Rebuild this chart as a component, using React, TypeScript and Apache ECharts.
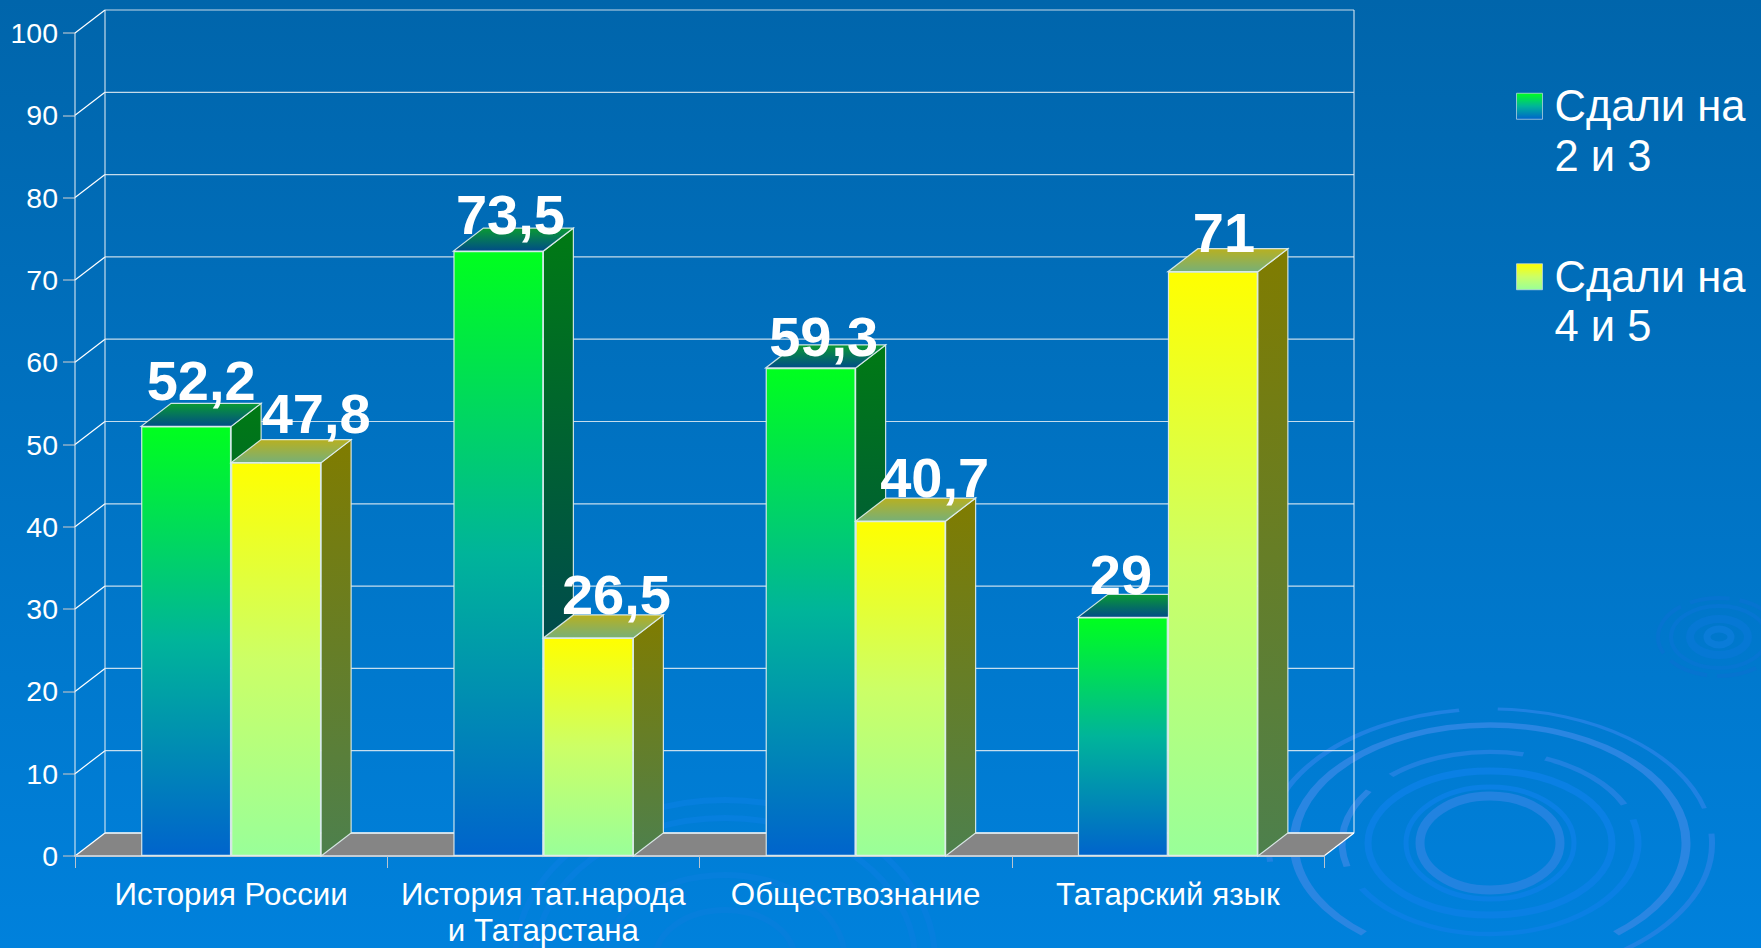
import React, { useEffect, useRef } from "react";
import * as echarts from "echarts";

const categories = ["История России", "История тат.народа\nи Татарстана", "Обществознание", "Татарский язык"];
const lowGrades = [52.2, 73.5, 59.3, 29];
const highGrades = [47.8, 26.5, 40.7, 71];
const lowName = "Сдали на 2 и 3";
const highName = "Сдали на 4 и 5";
const yTicks = [0, 10, 20, 30, 40, 50, 60, 70, 80, 90, 100];
const lowLabelNudge = [[15, -18], [12, -9], [13, -3], [-2, -15]];
const highLabelNudge = [[40, -21], [28, -15], [34, -16], [11, -11]];

const BAR_W = 90;
const DX = 30;
const DY = 23;
const FONT = '"Liberation Sans", Arial, sans-serif';
const EDGE = "rgba(225,240,240,0.9)";

const grad = (a: string, b: string, mid?: string) =>
  new echarts.graphic.LinearGradient(0, 0, 0, 1, mid
    ? [{ offset: 0, color: a }, { offset: 0.5, color: mid }, { offset: 1, color: b }]
    : [{ offset: 0, color: a }, { offset: 1, color: b }]);

function solid(api: any, side: number, sideFill: any, topFill: any) {
  const top = api.coord([api.value(0), api.value(1)]);
  const base = api.coord([api.value(0), 0]);
  const x = side < 0 ? top[0] - BAR_W : top[0];
  const xr = x + BAR_W;
  const style = (fill: any) => ({ fill, stroke: EDGE, lineWidth: 1.2 });
  return {
    type: "group",
    children: [
      {
        type: "polygon",
        shape: { points: [[xr, top[1]], [xr + DX, top[1] - DY], [xr + DX, base[1] - DY], [xr, base[1]]] },
        style: style(sideFill),
      },
      {
        type: "polygon",
        shape: { points: [[x, top[1]], [xr, top[1]], [xr + DX, top[1] - DY], [x + DX, top[1] - DY]] },
        style: style(topFill),
      },
    ],
  };
}

function frame(params: any, api: any) {
  const cs = params.coordSys;
  const x0 = cs.x;
  const x1 = cs.x + cs.width;
  const tick = api.value(0);
  const y = api.coord([0, tick])[1];
  const line = "rgba(232,240,244,0.85)";
  const children: any[] = [];
  if (tick === 0) {
    children.push({
      type: "polygon",
      shape: { points: [[x0, y], [x1, y], [x1 + DX, y - DY], [x0 + DX, y - DY]] },
      style: { fill: "#858585", stroke: "none" },
    });
  }
  if (tick === 100) {
    const yb = api.coord([0, 0])[1];
    [x0 + DX, x1 + DX].forEach((xx) =>
      children.push({
        type: "line",
        shape: { x1: xx, y1: y - DY, x2: xx, y2: yb - DY },
        style: { stroke: line, lineWidth: 1.2 },
      })
    );
    children.push({
      type: "line",
      shape: { x1: x0, y1: y, x2: x0, y2: yb },
      style: { stroke: line, lineWidth: 1.2 },
    });
  }
  children.push({
    type: "line",
    shape: { x1: x0, y1: y, x2: x0 + DX, y2: y - DY },
    style: { stroke: "#ffffff", lineWidth: 1.2 },
  });
  children.push({
    type: "line",
    shape: { x1: x0 + DX, y1: y - DY, x2: x1 + DX, y2: y - DY },
    style: { stroke: line, lineWidth: tick === 0 ? 2 : 1.2 },
  });
  if (tick === 0) {
    children.push({
      type: "line",
      shape: { x1: x1, y1: y, x2: x1 + DX, y2: y - DY },
      style: { stroke: "#ffffff", lineWidth: 1.2 },
    });
  }
  return { type: "group", children };
}

const ring = (cx: number, cy: number, rx: number, ry: number, stroke: string, lineWidth: number, lineDash?: number[], fill = "none") => ({
  type: "ellipse",
  z: -10,
  silent: true,
  shape: { cx, cy, rx, ry },
  style: { fill, stroke, lineWidth, lineDash },
});

const arcRing = (cx: number, cy: number, rx: number, ry: number, from: number, to: number, stroke: string, lineWidth: number) => ({
  type: "arc",
  z: -10,
  silent: true,
  x: cx,
  y: cy,
  scaleY: ry / rx,
  shape: { cx: 0, cy: 0, r: rx, startAngle: (from * Math.PI) / 180, endAngle: (to * Math.PI) / 180, clockwise: true },
  style: { fill: "none", stroke, lineWidth },
});

const BRIGHT = "#2a86e2";
const SOFT = "#0a80e4";
const ripples = [
  ring(1490, 843, 70, 47, "#2283e0", 9),
  ring(1490, 843, 84, 56, SOFT, 5),
  ring(1490, 843, 122, 72, SOFT, 7),
  arcRing(1490, 843, 148, 91, 165, 215, BRIGHT, 7),
  arcRing(1490, 843, 148, 91, 228, 283, "#1f82e0", 7),
  arcRing(1490, 843, 148, 91, 292, 335, "#1f82e0", 7),
  arcRing(1490, 843, 148, 91, 345, 510, SOFT, 7),
  arcRing(1490, 843, 196, 118, 130, 410, BRIGHT, 9),
  arcRing(1490, 843, 222, 134, 172, 262, "#1f82e2", 6),
  arcRing(1490, 843, 222, 134, 272, 345, "#1f82e2", 5),
  arcRing(1490, 843, 222, 134, 356, 420, "#1f82e2", 6),
  ring(1719, 637, 12, 8, "#0a7cd8", 7),
  ring(1719, 637, 29, 18, "#0678d4", 8),
  ring(1719, 637, 48, 31, "#0676d2", 4),
  ring(1719, 637, 61, 39, "#0674d0", 4, [40, 10]),
  ring(725, 960, 70, 50, "#067fdc", 6),
  ring(725, 960, 120, 85, "#067fdc", 6),
  ring(725, 960, 190, 142, "#067fde", 6),
  ring(725, 960, 210, 160, "#067fde", 6),
];

const barLabel = {
  show: true,
  position: "top",
  distance: 0,
  color: "#ffffff",
  fontFamily: FONT,
  fontWeight: "bold",
  fontSize: 56,
  formatter: (p: any) => String(p.value).replace(".", ","),
};

const lowFront = grad("#00ff1e", "#0064cc", "#00b49a");
const highFront = grad("#ffff00", "#99ff99", "#ccff66");

export default function App() {
  const ref = useRef<HTMLDivElement>(null);
  useEffect(() => {
    document.body.style.margin = "0";
    const chart = echarts.init(ref.current!, undefined, { renderer: "svg" });
    chart.setOption({
      animation: false,
      backgroundColor: grad("#0065ab", "#0081dc"),
      graphic: ripples,
      legend: {
        data: [lowName, highName],
        orient: "vertical",
        left: 1511,
        top: 27,
        itemWidth: 26,
        itemHeight: 26,
        itemGap: 22,
        icon: "rect",
        itemStyle: { borderWidth: 1, borderColor: "rgba(200,220,230,0.7)" },
        formatter: (n: string) => "\n" + n.replace(/ (\d)/, "\n$1"),
        textStyle: { color: "#ffffff", fontFamily: FONT, fontSize: 43.5, lineHeight: 49.5, padding: [0, 0, 0, 7] },
      },
      grid: { left: 75, top: 33, width: 1249, height: 823, outerBoundsMode: "none" },
      xAxis: {
        type: "category",
        data: categories,
        z: 3,
        axisLine: { lineStyle: { color: "#c4ccd4", width: 2 } },
        axisTick: { show: true, length: 12, lineStyle: { color: "#b8c4d0" } },
        axisLabel: {
          color: "#ffffff",
          fontFamily: FONT,
          fontSize: 31.3,
          lineHeight: 36,
          margin: 20,
          interval: 0,
          hideOverlap: false,
        },
      },
      yAxis: {
        type: "value",
        min: 0,
        max: 100,
        interval: 10,
        splitLine: { show: false },
        axisLine: { show: false },
        axisTick: { show: true, length: 12, lineStyle: { color: "#8fb0c8", width: 1.5 } },
        axisLabel: { color: "#ffffff", fontFamily: FONT, fontSize: 28.5, margin: 17 },
      },
      series: [
        {
          type: "custom",
          name: "рамка",
          z: 1,
          silent: true,
          clip: false,
          encode: { y: 0 },
          data: yTicks.map((t) => [t]),
          renderItem: frame,
        },
        {
          type: "custom",
          name: "объём 2 и 3",
          z: 2,
          silent: true,
          clip: false,
          encode: { x: 0, y: 1 },
          data: lowGrades.map((v, i) => [i, v]),
          renderItem: (_: any, api: any) => solid(api, -1, grad("#007a14", "#00336a"), grad("#0a9a32", "#004c88")),
        },
        {
          type: "bar",
          name: lowName,
          z: 3,
          barWidth: BAR_W,
          barGap: 0,
          itemStyle: { color: lowFront, borderColor: EDGE, borderWidth: 1.2 },
          data: lowGrades.map((v, i) => ({ value: v, label: { offset: lowLabelNudge[i] } })),
          label: barLabel,
        },
        {
          type: "custom",
          name: "объём 4 и 5",
          z: 4,
          silent: true,
          clip: false,
          encode: { x: 0, y: 1 },
          data: highGrades.map((v, i) => [i, v]),
          renderItem: (_: any, api: any) => solid(api, 1, grad("#807c00", "#4d804d"), grad("#b8b020", "#77b077")),
        },
        {
          type: "bar",
          name: highName,
          z: 5,
          barWidth: BAR_W,
          barGap: 0,
          itemStyle: { color: highFront, borderColor: EDGE, borderWidth: 1.2 },
          data: highGrades.map((v, i) => ({ value: v, label: { offset: highLabelNudge[i] } })),
          label: barLabel,
        },
      ],
    });
    return () => chart.dispose();
  }, []);
  return <div ref={ref} style={{ width: 1761, height: 948, display: "block" }} />;
}
